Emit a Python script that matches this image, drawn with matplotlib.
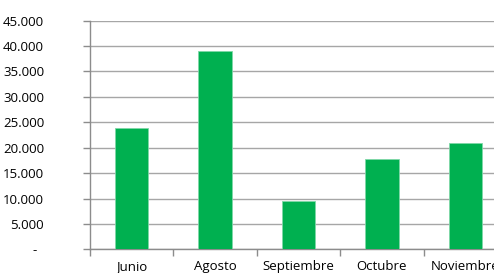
import matplotlib
matplotlib.use("Agg")
import matplotlib.pyplot as plt
import numpy as np
from matplotlib.ticker import FuncFormatter

categories = ["Junio", "Agosto", "Septiembre", "Octubre", "Noviembre"]
values = [23800, 39100, 9500, 17700, 21000]
yticks = [0, 5000, 10000, 15000, 20000, 25000, 30000, 35000, 40000, 45000]

plt.rcParams['font.family'] = ['Open Sans', 'DejaVu Sans']

fig = plt.figure(figsize=(4.94, 2.73), dpi=100)
ax = fig.add_axes([90/494, 23.7/273, 417/494, 228.6/273])

x = np.arange(len(categories))
ax.bar(x, values, width=0.4, color="#00B050", edgecolor="#7FD8A8", linewidth=0.6, zorder=3)

ax.set_xlim(-0.5, len(categories) - 0.5)
ax.set_ylim(0, 45000)
ax.set_yticks(yticks)
ax.yaxis.set_major_formatter(FuncFormatter(lambda v, p: "-  " if v == 0 else f"{int(v):,}".replace(",", ".")))
ax.yaxis.grid(True, color="#A6A6A6", linewidth=1.0, zorder=0)
ax.set_axisbelow(True)

ax.set_xticks(np.arange(-0.5, len(categories), 1))
ax.set_xticklabels([])
ax.set_xticks(x, minor=True)
ax.set_xticklabels(categories, minor=True)
ax.tick_params(axis='x', which='minor', length=0, pad=8, labelsize=9.5, labelcolor="#000000")
ax.tick_params(axis='x', which='major', length=5, color="#8C8C8C", width=1, direction='out')
ax.tick_params(axis='y', length=5, color="#8C8C8C", width=1, direction='out', pad=28, labelsize=9.5)

for s in ['top', 'right']:
    ax.spines[s].set_visible(False)
for s in ['left', 'bottom']:
    ax.spines[s].set_color("#8C8C8C")
    ax.spines[s].set_linewidth(1)

fig.savefig("out.png", dpi=100)
